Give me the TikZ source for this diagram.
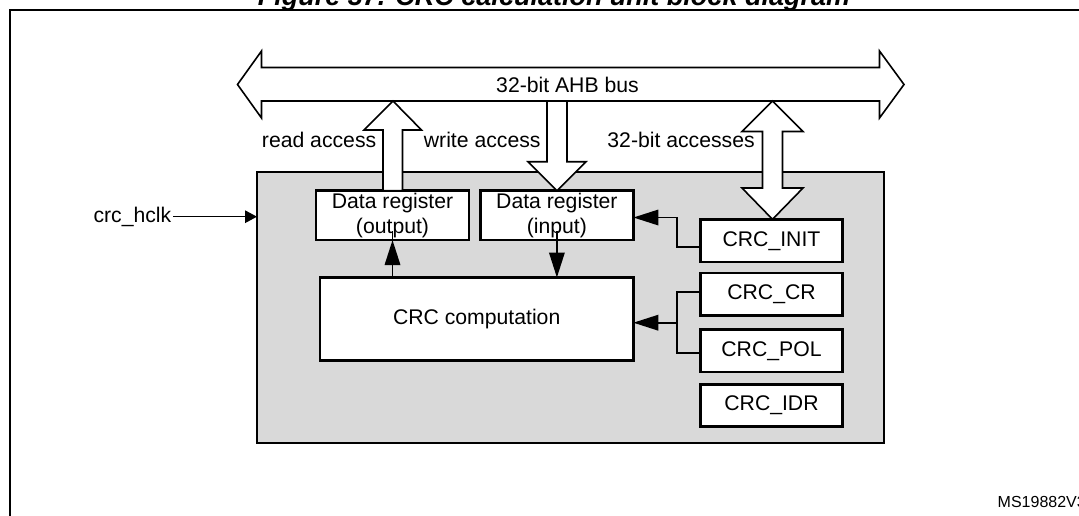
\documentclass[tikz,border=0pt]{standalone}
\usepackage{fontspec}
\setmainfont{Liberation Sans}
\usetikzlibrary{arrows.meta,calc}
\begin{document}
\begin{tikzpicture}[x=1pt,y=-1pt,
  lbl/.style={font=\fontsize{21.2}{24.5}\selectfont, inner sep=0pt},
  reg/.style={draw, line width=2.6pt, fill=white, minimum width=141.6pt, minimum height=42.5pt, inner sep=0pt, outer sep=0pt, font=\fontsize{21.2}{24.5}\selectfont},
  dreg/.style={reg, minimum width=153pt, minimum height=49.3pt, align=center},
  conn/.style={line width=1.8pt, -{Triangle[length=25pt,width=15.5pt]}},
  wire/.style={line width=1.8pt},
  hollow/.style={draw, line width=1.6pt, fill=white, line join=miter}
]
\useasboundingbox (0,0) rectangle (1079,515);
\clip (0,0) rectangle (1079,515);

% title (cut by the page top)
\node[anchor=base, font=\fontsize{27}{30}\selectfont\bfseries\itshape, inner sep=0pt] (title) at (554,5.5) {Figure 37. CRC calculation unit block diagram};

% outer frame
\draw[line width=2.2pt] (10,10) rectangle (1100,540);

% grey unit
\node[draw, line width=1.8pt, fill=gray!30, minimum width=627pt, minimum height=271.6pt, inner sep=0pt, outer sep=0pt] (unit) at (570.5,307.5) {};

% bus
\draw[hollow] (237.5,84.5) -- (261.5,51) -- (261.5,67.5) -- (879.5,67.5) -- (879.5,51) -- (904,84.5) -- (879.5,118) -- (879.5,101) -- (261.5,101) -- (261.5,118) -- cycle;
\node[lbl] (bus) at (567.5,84.5) {32-bit AHB bus};

% registers
\node[dreg] (outreg) at (392.5,215.4) {Data register\\(output)};
\node[dreg] (inreg) at (556.9,215.4) {Data register\\(input)};
\node[reg, minimum width=313.3pt, minimum height=83pt] (comp) at (476.7,319) {CRC computation};
\node[reg] (init) at (771.5,240.8) {CRC\_INIT};
\node[reg] (cr) at (771.5,294.3) {CRC\_CR};
\node[reg] (pol) at (771.5,350.9) {CRC\_POL};
\node[reg] (idr) at (771.5,405.5) {CRC\_IDR};

% hollow access arrows
\draw[hollow] (393,101) -- (421.5,130) -- (402.5,130) -- (402.5,190.7) -- (383,190.7) -- (383,130) -- (364,130) -- cycle;
\draw[hollow] (547,101) -- (567,101) -- (567,161.7) -- (586,161.7) -- (557,190.7) -- (528,161.7) -- (547,161.7) -- cycle;
\draw[hollow] (772.5,101) -- (803,131.5) -- (782.5,131.5) -- (782.5,188) -- (803,188) -- (772.5,219.3) -- (742,188) -- (762.5,188) -- (762.5,131.5) -- (742,131.5) -- cycle;

\node[lbl] (ra) at (319.1,140) {read access};
\node[lbl] (wa) at (482.2,140) {write access};
\node[lbl] (ba) at (681.1,139.5) {32-bit accesses};

% connectors
\coordinate (j1) at (677.3,217.5);
\draw[conn] ([yshift=-6.5pt]init.west) -| (j1) -- (j1 -| inreg.east);
\coordinate (j2) at (677.3,322.7);
\draw[wire] ([yshift=2pt]cr.west) -| (j2);
\draw[wire] ([yshift=-1.8pt]pol.west) -| (j2);
\draw[conn] (j2) -- (j2 -| comp.east);

\draw[conn] (outreg.south |- comp.north) -- (outreg.south);
\draw[wire] (outreg.south) -- ++(0,-9);
\draw[conn] ([yshift=9pt]inreg.south) -- (inreg.south |- comp.north);

% clock
\node[lbl] (clk) at (132.4,216.7) {crc\_hclk};
\draw[line width=1.5pt, -{Triangle[length=12pt,width=12.5pt]}] ([xshift=2pt]clk.east) -- (clk.east -| unit.west);

\node[anchor=west, font=\fontsize{16}{18}\selectfont, inner sep=0pt] (ms) at (997.5,501.7) {MS19882V3};
\end{tikzpicture}
\end{document}
